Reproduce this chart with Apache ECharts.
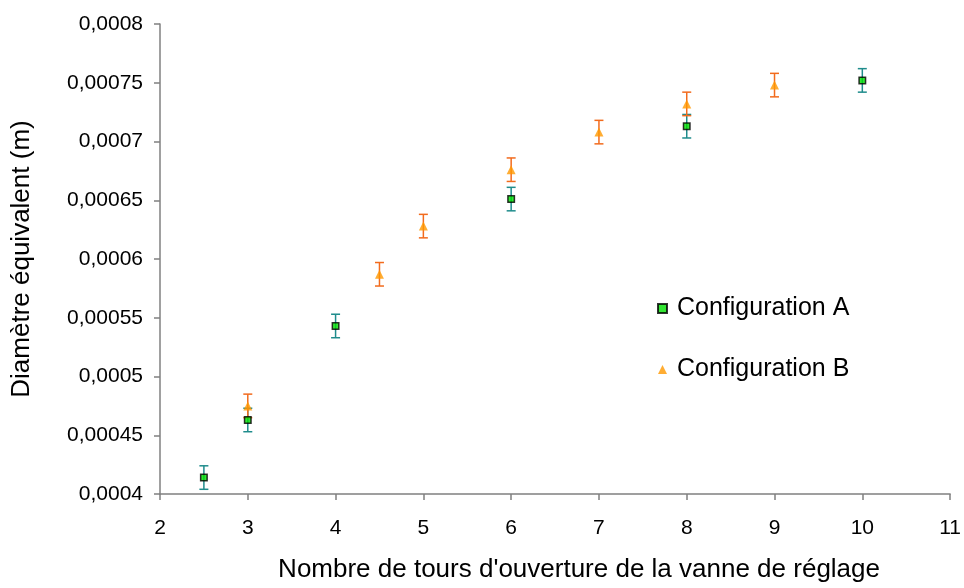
<!DOCTYPE html>
<html>
<head>
<meta charset="utf-8">
<script src="https://cdn.jsdelivr.net/npm/echarts@6/dist/echarts.min.js"></script>
<style>
  html, body { margin: 0; padding: 0; background: #fff; }
  #chart { width: 964px; height: 588px; }
</style>
</head>
<body>
<div id="chart"></div>
<script>
// données
var toursA = [2.5, 3, 4, 6, 8, 10];
var diamA = [0.000414, 0.000463, 0.000543, 0.000651, 0.000713, 0.000752];
var errA = [0.00001, 0.00001, 0.00001, 0.00001, 0.00001, 0.00001];

var toursB = [3, 4.5, 5, 6, 7, 8, 9];
var diamB = [0.000475, 0.000587, 0.000628, 0.000676, 0.000708, 0.000732, 0.000748];
var errB = [0.00001, 0.00001, 0.00001, 0.00001, 0.00001, 0.00001, 0.00001];

var nomA = "Configuration A";
var nomB = "Configuration B";

var chart = echarts.init(document.getElementById("chart"));

const pts = (xs, ys, es) => xs.map((x, i) => [x, ys[i], es ? es[i] : 0]);

// barres d'erreur (type I)
const errorBars = (color) => (params, api) => {
  var x = api.value(0), y = api.value(1), e = api.value(2);
  var top = api.coord([x, y + e]);
  var bot = api.coord([x, y - e]);
  var w = 4.5;
  var style = { stroke: color, lineWidth: 1.5 };
  return {
    type: "group",
    children: [
      { type: "line", shape: { x1: top[0], y1: top[1], x2: bot[0], y2: bot[1] }, style: style },
      { type: "line", shape: { x1: top[0] - w, y1: top[1], x2: top[0] + w, y2: top[1] }, style: style },
      { type: "line", shape: { x1: bot[0] - w, y1: bot[1], x2: bot[0] + w, y2: bot[1] }, style: style },
    ],
  };
};

var labelFont = { fontFamily: "Liberation Sans, Arial, sans-serif", fontSize: 21, color: "#000" };

var option = {
  animation: false,
  textStyle: { fontFamily: "Liberation Sans, Arial, sans-serif" },
  grid: { left: 160, right: 11, top: 24, bottom: 90 },
  legend: {
    orient: "vertical",
    left: 652,
    top: 291,
    itemGap: 36,
    itemWidth: 9,
    itemHeight: 9,
    textStyle: { fontSize: 25, color: "#000", padding: [0, 0, 0, 5] },
    data: [nomA, nomB],
  },
  xAxis: {
    type: "value",
    min: 2,
    max: 11,
    interval: 1,
    name: "Nombre de tours d'ouverture de la vanne de réglage",
    nameLocation: "middle",
    nameGap: 63,
    nameTextStyle: { fontSize: 26, color: "#000", padding: [0, 0, 0, 48] },
    axisLine: { lineStyle: { color: "#808080", width: 1.5 } },
    axisTick: { show: true, inside: false, length: 6, lineStyle: { color: "#808080", width: 1.5 } },
    axisLabel: Object.assign({ margin: 24 }, labelFont),
    splitLine: { show: false },
  },
  yAxis: {
    type: "value",
    min: 0.0004,
    max: 0.0008,
    interval: 0.00005,
    name: "Diamètre équivalent (m)",
    nameLocation: "middle",
    nameGap: 125,
    nameTextStyle: { fontSize: 26, color: "#000" },
    axisLine: { show: true, lineStyle: { color: "#808080", width: 1.5 } },
    axisTick: { show: true, length: 6, lineStyle: { color: "#808080", width: 1.5 } },
    axisLabel: Object.assign(
      {
        margin: 17,
        formatter: function (v) {
          return String(parseFloat(v.toPrecision(6))).replace(".", ",");
        },
      },
      labelFont
    ),
    splitLine: { show: false },
  },
  series: [
    {
      type: "custom",
      name: "errA",
      renderItem: errorBars("#1f8c8c"),
      data: pts(toursA, diamA, errA),
      z: 1,
    },
    {
      type: "custom",
      name: "errB",
      renderItem: errorBars("#f26b1d"),
      data: pts(toursB, diamB, errB),
      z: 1,
    },
    {
      type: "scatter",
      name: nomA,
      symbol: "rect",
      symbolSize: 6.5,
      itemStyle: { color: "#00e000", borderColor: "#000", borderWidth: 1.5 },
      data: pts(toursA, diamA),
      z: 3,
    },
    {
      type: "scatter",
      name: nomB,
      symbol: "triangle",
      symbolSize: 9,
      itemStyle: { color: "#ff9900" },
      data: pts(toursB, diamB),
      z: 3,
    },
  ],
};
chart.setOption(option);
window.addEventListener("resize", function () {
  chart.resize();
});
</script>
</body>
</html>
